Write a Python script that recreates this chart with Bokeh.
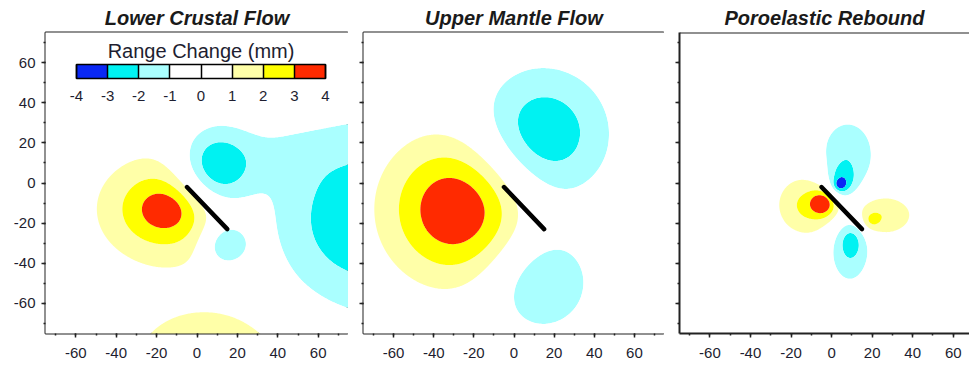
import numpy as np
from bokeh.plotting import figure
from bokeh.layouts import row
from bokeh.models import (ColorBar, LinearColorMapper, FixedTicker, Range1d, Span,
                          SingleIntervalTicker, Label)
from bokeh.embed import file_html
from bokeh.resources import INLINE

# ---------------- data ----------------
titles = ["Lower Crustal Flow", "Upper Mantle Flow", "Poroelastic Rebound"]
cbar_title = "Range Change (mm)"
cbar_ticks = [-4, -3, -2, -1, 0, 1, 2, 3, 4]
cbar_colors = ["#0a28f5", "#00f2f2", "#aaffff", "#ffffff", "#ffffff", "#ffffa8", "#ffff00", "#ff2a00"]
axis_ticks = [-60, -40, -20, 0, 20, 40, 60]

# filled-contour class boundaries (mm) and their fills
fill_levels = [-100, -3, -2, -1, 1, 2, 3, 100]
fill_colors = ["#0a28f5", "#00f2f2", "#aaffff", "#ffffff", "#ffffa8", "#ffff00", "#ff2a00"]

# fault trace (km)
fault_x = [-5, 15]
fault_y = [-2, -23]

# range-change field sources read from the maps: centre (km), amplitude (mm),
# half-widths (km) and decay exponent
lcf_cx  = [-15, 8, 9, 86, 14, 40, 25]
lcf_cy  = [-13, -86, 7, -18, -31, 15, -45]
lcf_amp = [4.1, 1.7, -3.4, -2.9, -2.35, -0.5, 0.25]
lcf_sx  = [21, 34, 13, 36, 8, 16, 15]
lcf_sy  = [17, 20, 14, 33, 8, 10, 15]
lcf_q   = [1.5, 2, 2, 2, 2, 2, 2]

umf_cx  = [-28, 14, 13]
umf_cy  = [-13, 24, -49]
umf_amp = [4.0, -2.9, -2.0]
umf_sx  = [25, 23, 19]
umf_sy  = [25, 23, 19]
umf_q   = [2, 2, 2]

por_cx  = [-12, -4, 23, 19.5, 8, 5, 4, 9, 10]
por_cy  = [-11, -10, -16, -19, 14, 0, -1, -33, -26]
por_amp = [2.2, 2.6, 2.0, 1.0, -1.8, -2.0, -1.5, -1.9, -1.2]
por_sx  = [11, 4.5, 13, 3, 10.5, 5, 2.2, 7.5, 5]
por_sy  = [11, 4.5, 8, 3, 14, 6, 2.2, 13, 6.5]
por_q   = [2, 2, 2, 2, 2, 2, 2, 2, 2]

# ---------------- field ----------------
gx = np.linspace(-76, 76, 305)
gy = np.linspace(-76, 76, 305)
GX, GY = np.meshgrid(gx, gy)


def field(cx, cy, amp, sx, sy, q):
    z = np.zeros_like(GX)
    for a, b, c, d, e, k in zip(cx, cy, amp, sx, sy, q):
        rho = np.sqrt(((GX - a) / d) ** 2 + ((GY - b) / e) ** 2)
        z += c * np.exp(-rho ** k / k)
    return z


fields = [
    field(lcf_cx, lcf_cy, lcf_amp, lcf_sx, lcf_sy, lcf_q),
    field(umf_cx, umf_cy, umf_amp, umf_sx, umf_sy, umf_q),
    field(por_cx, por_cy, por_amp, por_sx, por_sy, por_q),
]

FONT = "Liberation Sans"
TXT = "#1e1e30"


def make_panel(i, width, left, x_end):
    p = figure(width=width, height=366, output_backend="svg", toolbar_location=None,
               x_range=Range1d(-75, x_end), y_range=Range1d(-75, 75),
               min_border_left=left, min_border_right=0, min_border_top=32,
               min_border_bottom=33)
    p.grid.visible = False
    p.background_fill_color = "white"
    p.border_fill_color = "white"
    p.contour(x=gx, y=gy, z=fields[i], levels=fill_levels, fill_color=fill_colors,
              line_color=None)
    p.line(fault_x, fault_y, line_width=4.5, line_color="black", line_cap="round")

    p.title.text = titles[i]
    p.title.align = "center"
    p.title.text_font = FONT
    p.title.text_font_style = "bold italic"
    p.title.text_font_size = "20px"
    p.title.text_color = "#1a1a1a"
    p.title.standoff = 7

    for ax in (p.xaxis[0], p.yaxis[0]):
        ax.ticker = SingleIntervalTicker(interval=20, num_minor_ticks=2)
        ax.axis_line_color = None
        ax.major_tick_in = 0
        ax.major_tick_out = 4
        ax.minor_tick_in = 0
        ax.minor_tick_out = 2
        ax.major_tick_line_color = "#222"
        ax.minor_tick_line_color = "#222"
        ax.major_tick_line_width = 1.5
        ax.minor_tick_line_width = 1.5
        ax.major_label_text_font = FONT
        ax.major_label_text_font_size = "15px"
        ax.major_label_text_color = TXT
    p.xaxis.major_label_standoff = 10
    p.yaxis.major_label_standoff = 6
    p.xaxis.major_label_overrides = {t: str(t) for t in axis_ticks}
    if i > 0:
        p.yaxis.major_label_overrides = {t: "" for t in axis_ticks}
        p.yaxis.major_label_standoff = 0
    else:
        p.yaxis.major_label_overrides = {t: str(t) for t in axis_ticks}

    if i < 2:
        p.outline_line_color = "#222"
        p.outline_line_width = 2
        p.outline_line_alpha = 1
    else:
        p.outline_line_color = None
        for ax in (p.xaxis[0], p.yaxis[0]):
            ax.axis_line_color = "#222"
            ax.axis_line_width = 2
        p.add_layout(Span(location=75, dimension="width", line_color="#222", line_width=2))
    return p


p1 = make_panel(0, 348, 45, 75)
p2 = make_panel(1, 316, 15, 75)
p3 = make_panel(2, 305, 15, 68)

mapper = LinearColorMapper(palette=cbar_colors, low=cbar_ticks[0], high=cbar_ticks[-1])
cb = ColorBar(color_mapper=mapper, ticker=FixedTicker(ticks=cbar_ticks),
              major_label_overrides={t: str(t) for t in cbar_ticks},
              orientation="horizontal", width=249, height=14, location=(31, 230),
              major_label_text_font=FONT, major_label_text_font_size="15px",
              major_label_text_color=TXT, label_standoff=12,
              major_tick_in=14, major_tick_out=0, major_tick_line_color="black",
              major_tick_line_width=1.5, bar_line_color="black", bar_line_width=1.5,
              background_fill_color=None, border_line_color=None, padding=0, margin=0)
p1.add_layout(cb, "center")
p1.add_layout(Label(x=2, y=66, text=cbar_title, text_align="center", text_baseline="middle",
                    text_font=FONT, text_font_size="20px", text_color=TXT))

layout = row(p1, p2, p3, spacing=0)
open("out.html", "w").write(file_html(layout, INLINE))
